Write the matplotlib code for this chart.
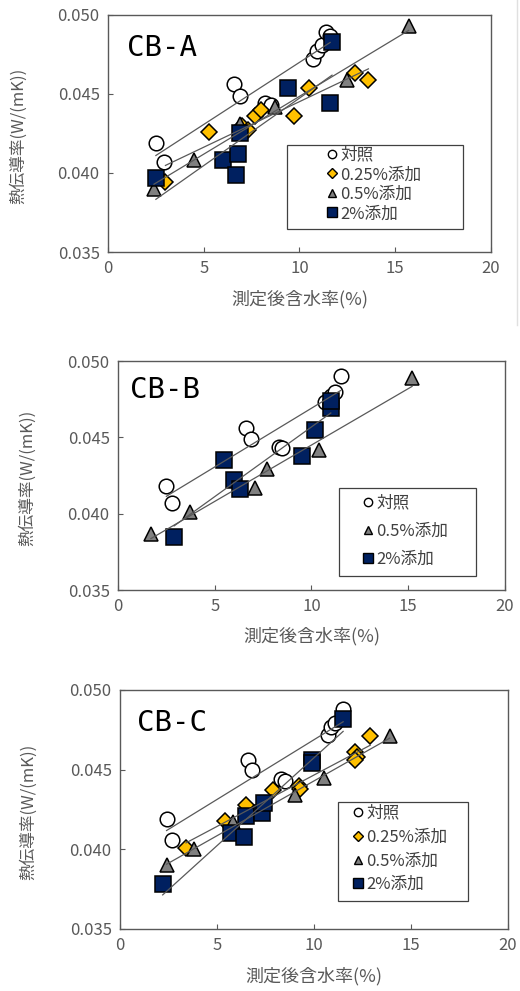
import numpy as np
import matplotlib
matplotlib.use("Agg")
import matplotlib.pyplot as plt
from matplotlib.lines import Line2D
from matplotlib.patches import Rectangle
from matplotlib import font_manager

plt.rcParams['font.family'] = ['Noto Sans CJK JP', 'DejaVu Sans']

# ---- data ----
a_ctrl_x = [2.5, 2.9, 6.6, 6.9, 8.2, 8.5, 10.7, 10.9, 11.2, 11.4, 11.6]
a_ctrl_y = [0.0419, 0.0407, 0.0456, 0.0449, 0.0444, 0.0443, 0.0472, 0.0477, 0.0481, 0.0489, 0.0487]
a_025_x = [3.0, 5.3, 7.0, 7.3, 7.7, 8.0, 9.7, 10.5, 12.9, 13.6]
a_025_y = [0.0394, 0.0426, 0.0430, 0.0427, 0.0436, 0.0440, 0.0436, 0.0454, 0.0463, 0.0459]
a_05_x = [2.4, 4.5, 6.9, 8.7, 12.5, 15.7]
a_05_y = [0.0390, 0.0408, 0.0431, 0.0442, 0.0459, 0.0493]
a_2_x = [2.5, 6.0, 6.8, 6.7, 6.9, 9.4, 11.6, 11.7]
a_2_y = [0.0397, 0.0408, 0.0412, 0.0399, 0.0425, 0.0454, 0.0444, 0.0483]

b_ctrl_x = [2.5, 2.8, 6.6, 6.9, 8.3, 8.5, 10.7, 11.0, 11.2, 11.5]
b_ctrl_y = [0.0418, 0.0407, 0.0456, 0.0449, 0.0444, 0.0443, 0.0473, 0.0477, 0.0480, 0.0490]
b_05_x = [1.7, 3.7, 7.1, 7.7, 10.4, 15.2]
b_05_y = [0.0387, 0.0401, 0.0417, 0.0429, 0.0442, 0.0489]
b_2_x = [2.9, 5.5, 6.0, 6.3, 9.5, 10.2, 11.0, 11.0]
b_2_y = [0.0385, 0.0435, 0.0422, 0.0416, 0.0438, 0.0455, 0.0469, 0.0474]

c_ctrl_x = [2.4, 2.7, 6.6, 6.8, 8.3, 8.5, 10.7, 10.9, 11.1, 11.5]
c_ctrl_y = [0.0419, 0.0406, 0.0456, 0.0450, 0.0444, 0.0443, 0.0472, 0.0477, 0.0479, 0.0488]
c_025_x = [3.4, 5.4, 6.5, 7.9, 9.2, 9.3, 12.1, 12.2, 12.1, 12.9]
c_025_y = [0.0401, 0.0418, 0.0428, 0.0437, 0.0440, 0.0438, 0.0461, 0.0458, 0.0456, 0.0471]
c_05_x = [2.4, 3.8, 5.8, 9.0, 10.5, 13.9]
c_05_y = [0.0390, 0.0400, 0.0417, 0.0434, 0.0445, 0.0471]
c_2_x = [2.2, 5.7, 6.4, 6.5, 7.3, 7.4, 9.9, 9.9, 11.5]
c_2_y = [0.0378, 0.0410, 0.0408, 0.0421, 0.0423, 0.0429, 0.0456, 0.0454, 0.0482]

x_ticks = [0, 5, 10, 15, 20]
y_ticks = [0.035, 0.040, 0.045, 0.050]
x_label = '測定後含水率(%)'
y_label = '熱伝導率(W/(mK))'

# series styles: label, marker, face colour, size
styles = {
    'ctrl': ('対照', 'o', 'white', 10.5),
    '025': ('0.25%添加', 'D', '#FFC000', 8),
    '05': ('0.5%添加', '^', '#808080', 10.5),
    '2': ('2%添加', 's', '#002060', 11),
}
legend_sizes = {'ctrl': 6, '025': 5, '05': 6, '2': 6.5}

panels = [
    dict(name='CB-A', rect=[0.2077, 0.7457, 0.7365, 0.2392], name_pos=(0.05, 0.92),
         series=[('ctrl', a_ctrl_x, a_ctrl_y), ('025', a_025_x, a_025_y),
                 ('05', a_05_x, a_05_y), ('2', a_2_x, a_2_y)],
         box=(0.468, 0.096, 0.458, 0.356), leg=(0.569, 0.444), spacing=0.15),
    dict(name='CB-B', rect=[0.2269, 0.4046, 0.7442, 0.2311], name_pos=(0.031, 0.934),
         series=[('ctrl', b_ctrl_x, b_ctrl_y), ('05', b_05_x, b_05_y),
                 ('2', b_2_x, b_2_y)],
         box=(0.572, 0.061, 0.353, 0.383), leg=(0.631, 0.416), spacing=0.65),
    dict(name='CB-C', rect=[0.2308, 0.0626, 0.7462, 0.2412], name_pos=(0.044, 0.92),
         series=[('ctrl', c_ctrl_x, c_ctrl_y), ('025', c_025_x, c_025_y),
                 ('05', c_05_x, c_05_y), ('2', c_2_x, c_2_y)],
         box=(0.563, 0.117, 0.333, 0.416), leg=(0.598, 0.52), spacing=0.41),
]

# monospaced gothic-like face for the panel names
installed = {f.name for f in font_manager.fontManager.ttflist}
name_family = [f for f in ['Noto Sans Mono CJK JP', 'DejaVu Sans Mono'] if f in installed]

text_col = '#595959'
fig = plt.figure(figsize=(5.2, 9.91), dpi=100)

for p in panels:
    ax = fig.add_axes(p['rect'])
    handles = []
    for key, xs, ys in p['series']:
        label, mk, fc, ms = styles[key]
        ax.plot(xs, ys, linestyle='none', marker=mk, markersize=ms,
                markerfacecolor=fc, markeredgecolor='black',
                markeredgewidth=1.1, zorder=3)
        # linear trend line
        k, b = np.polyfit(xs, ys, 1)
        xx = np.array([min(xs), max(xs)])
        ax.plot(xx, k * xx + b, color='#595959', linewidth=0.9, zorder=4)
        handles.append(Line2D([], [], linestyle='none', marker=mk,
                              markersize=legend_sizes[key], markerfacecolor=fc,
                              markeredgecolor='black', markeredgewidth=1.0,
                              label=label))

    ax.set_xlim(0, 20)
    ax.set_ylim(0.035, 0.050)
    ax.set_xticks(x_ticks)
    ax.set_yticks(y_ticks)
    ax.set_yticklabels([f'{v:.3f}' for v in y_ticks])
    ax.tick_params(direction='in', length=3.5, width=0.8, colors=text_col,
                   labelsize=12, pad=6, labelcolor=text_col)
    for s in ax.spines.values():
        s.set_color('#595959')
        s.set_linewidth(1.0)
    ax.set_xlabel(x_label, fontsize=13, color=text_col, va='top')
    ax.xaxis.set_label_coords(0.5, -0.16)
    ax.set_ylabel(y_label, fontsize=12, color=text_col, va='center')
    ax.yaxis.set_label_coords(-0.235, 0.49)

    ax.text(p['name_pos'][0], p['name_pos'][1], p['name'], transform=ax.transAxes,
            fontsize=21, family=name_family, va='top', ha='left',
            color='black')

    bx, by, bw, bh = p['box']
    ax.add_patch(Rectangle((bx, by), bw, bh, transform=ax.transAxes,
                           facecolor='white', edgecolor='#404040',
                           linewidth=0.9, zorder=5))
    ax.legend(handles=handles, loc='upper left', bbox_to_anchor=p['leg'],
              frameon=False, fontsize=12, handlelength=0.7,
              handletextpad=0.15, borderpad=0, borderaxespad=0,
              labelspacing=p['spacing'], labelcolor='#404040').set_zorder(6)

# faint screenshot edge line on the right of the top panel
fig.add_artist(Line2D([517 / 520, 517 / 520], [1 - 325 / 991, 1.0],
                      color='#e0e0e0', linewidth=1.0))

fig.savefig('out.png', dpi=100)
